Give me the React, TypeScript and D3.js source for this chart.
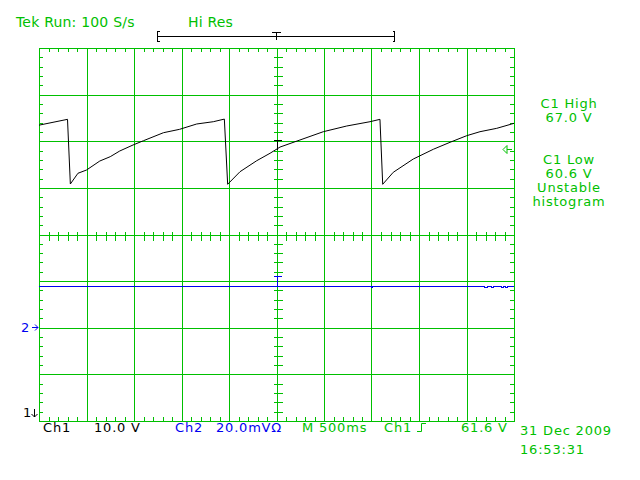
import * as d3 from 'd3'

// Ch1 trace (seconds, volts), 500 ms/div, 10 V/div
const ch1Time = [
  -2.5, -2.2, -2.17, -2.09, -2.0, -1.86, -1.75, -1.65, -1.51, -1.4, -1.19, -1.02, -0.84, -0.665, -0.549,
  -0.514, -0.384, -0.208, -0.068, 0.037, 0.247, 0.493, 0.739, 0.984, 1.089,
  1.118, 1.229, 1.44, 1.651, 1.826, 2.002, 2.142, 2.318, 2.476, 2.5
]
const ch1Volts = [
  66.7, 67.95, 54.08, 56.38, 57.08, 59.01, 59.94, 61.16, 62.45, 63.37, 65.08, 65.81, 66.95, 67.44, 68.0,
  54.02, 56.72, 59.08, 60.67, 62.0, 63.52, 65.3, 66.52, 67.44, 67.95,
  54.02, 56.59, 59.44, 61.53, 63.02, 64.44, 65.3, 66.02, 66.95, 67.1
]

// Ch2 trace (seconds, mV), 20 mV/div
const ch2Time = [-2.5, 1.0, 1.012, 2.19, 2.22, 2.265, 2.28, 2.37, 2.385, 2.415, 2.43, 2.5]
const ch2MilliVolts = [18.1, 17.6, 18.1, 17.6, 18.1, 17.6, 18.1, 17.6, 18.1, 17.6, 18.1, 18.1]

const triggerLevel = 61.6
const ch1Center = 43.25 // volts at screen centre
const ch2Ground = -2 // divisions from centre

const measureLines = ['C1 High', '67.0 V', '', '', 'C1 Low', '60.6 V', 'Unstable', 'histogram']

const GREEN = '#00c000'
const BLUE = '#0000f0'
const FONT = 'DejaVu Sans, Verdana, sans-serif'

const left = 39
const right = 514
const top = 48
const bottom = 421

export default function App() {
  const xDiv = d3.scaleLinear().domain([0, 10]).range([left, right])
  const yDiv = d3.scaleLinear().domain([0, 8]).range([bottom, top])
  const xTime = d3.scaleLinear().domain([-2.5, 2.5]).range([left, right])
  const yCh1 = d3.scaleLinear().domain([ch1Center - 40, ch1Center + 40]).range([bottom, top])
  const yCh2 = d3
    .scaleLinear()
    .domain([(-4 - ch2Ground) * 20, (4 - ch2Ground) * 20])
    .range([bottom, top])

  const snap = (v: number) => Math.round(v) + 0.5

  const ch1Data = ch1Time.map((t, i) => [t, ch1Volts[i]] as [number, number])
  const ch2Data = ch2Time.map((t, i) => [t, ch2MilliVolts[i]] as [number, number])

  const ch1Line = d3.line<[number, number]>().x(d => xTime(d[0])).y(d => yCh1(d[1]))
  const ch2Line = d3
    .line<[number, number]>()
    .x(d => xTime(d[0]))
    .y(d => snap(yCh2(d[1])))
    .curve(d3.curveStepAfter)

  const xMajor = d3.range(1, 10)
  const yMajor = d3.range(1, 8)
  const xMinor = d3.range(0, 10.001, 0.2)
  const yMinor = d3.range(0, 8.001, 0.2)

  const cx = snap(xDiv(5))
  const cy = snap(yDiv(4))
  const trigY = snap(yCh1(triggerLevel))
  const trigX = snap(xTime(0))
  const ch2Y = snap(yCh2(ch2MilliVolts[0]))
  const ch2GroundY = snap(yCh2(0))

  const txt = { fontFamily: FONT, fontSize: 13, letterSpacing: 0.8 }

  return (
    <svg
      width={640}
      height={480}
      style={{ position: 'absolute', left: 0, top: 0, background: '#fff' }}
    >
      <rect x={0} y={0} width={640} height={480} fill="#fff" />

      {/* graticule */}
      <g stroke={GREEN} strokeWidth={1} shapeRendering="crispEdges" fill="none">
        {xMajor.map(d => (
          <line key={'vx' + d} x1={snap(xDiv(d))} x2={snap(xDiv(d))} y1={top} y2={bottom} />
        ))}
        {yMajor.map(d => (
          <line key={'hy' + d} x1={left} x2={right} y1={snap(yDiv(d))} y2={snap(yDiv(d))} />
        ))}
        {xMinor.map((d, i) => (
          <g key={'mx' + i}>
            <line x1={snap(xDiv(d))} x2={snap(xDiv(d))} y1={top} y2={top + 4} />
            <line x1={snap(xDiv(d))} x2={snap(xDiv(d))} y1={bottom - 4} y2={bottom} />
            <line x1={snap(xDiv(d))} x2={snap(xDiv(d))} y1={cy - 4} y2={cy + 5} />
          </g>
        ))}
        {yMinor.map((d, i) => (
          <g key={'my' + i}>
            <line x1={left} x2={left + 4} y1={snap(yDiv(d))} y2={snap(yDiv(d))} />
            <line x1={right - 4} x2={right} y1={snap(yDiv(d))} y2={snap(yDiv(d))} />
            <line x1={cx - 4} x2={cx + 5} y1={snap(yDiv(d))} y2={snap(yDiv(d))} />
          </g>
        ))}
        <rect x={snap(left)} y={snap(top)} width={right - left} height={bottom - top} />
      </g>

      {/* Ch2 trace */}
      <path d={ch2Line(ch2Data) || ''} fill="none" stroke={BLUE} strokeWidth={1} shapeRendering="crispEdges" />
      <g stroke={BLUE} strokeWidth={1} shapeRendering="crispEdges">
        <line x1={trigX - 4} x2={trigX + 4} y1={ch2Y - 10} y2={ch2Y - 10} />
        <line x1={trigX} x2={trigX} y1={ch2Y - 10} y2={ch2Y} />
      </g>

      {/* Ch1 trace */}
      <path d={ch1Line(ch1Data) || ''} fill="none" stroke="#000" strokeWidth={1} />
      <g stroke="#000" strokeWidth={1} shapeRendering="crispEdges">
        <line x1={trigX - 4} x2={trigX + 4} y1={trigY - 9} y2={trigY - 9} />
        <line x1={trigX} x2={trigX} y1={trigY - 9} y2={trigY} />
      </g>

      {/* trigger level marker */}
      <g stroke={GREEN} strokeWidth={1} fill="none">
        <path d={`M${right - 11},${trigY} L${right - 7},${trigY - 4} L${right - 7},${trigY + 4} Z`} />
        <line x1={right - 7} x2={right - 2} y1={trigY} y2={trigY} />
      </g>

      {/* record view bracket */}
      <g stroke="#000" strokeWidth={1} shapeRendering="crispEdges" fill="none">
        <line x1={157} x2={395} y1={36.5} y2={36.5} />
        <path d="M159.5,31.5 H157.5 V41.5 H159.5" />
        <path d="M392.5,31.5 H394.5 V41.5 H392.5" />
        <line x1={272} x2={281} y1={32.5} y2={32.5} />
        <line x1={276.5} x2={276.5} y1={32} y2={40} />
      </g>

      {/* header */}
      <text x={16} y={27} fill={GREEN} fontFamily={FONT} fontSize={14} letterSpacing={0.2}>
        Tek Run: 100 S/s
      </text>
      <text x={188} y={27} fill={GREEN} fontFamily={FONT} fontSize={14} letterSpacing={0.2}>
        Hi Res
      </text>

      {/* measurements */}
      {measureLines.map((s, i) => (
        <text key={i} x={569} y={108 + i * 14} fill={GREEN} textAnchor="middle" {...txt}>
          {s}
        </text>
      ))}

      {/* channel ground markers */}
      <text x={21} y={332} fill={BLUE} {...txt}>2</text>
      <g stroke={BLUE} strokeWidth={1} fill="none">
        <line x1={32} x2={38} y1={ch2GroundY - 1} y2={ch2GroundY - 1} />
        <path d={`M35,${ch2GroundY - 4} L38,${ch2GroundY - 1} L35,${ch2GroundY + 2}`} />
      </g>
      <text x={23} y={417} fill="#000" {...txt}>1</text>
      <g stroke="#000" strokeWidth={1} fill="none">
        <line x1={34.5} x2={34.5} y1={409} y2={417} />
        <path d="M31.5,414 L34.5,417 L37.5,414" />
      </g>

      {/* bottom readout */}
      <text x={43} y={432} fill="#000" {...txt}>Ch1</text>
      <text x={94} y={432} fill="#000" {...txt}>10.0 V</text>
      <text x={175} y={432} fill={BLUE} {...txt}>Ch2</text>
      <text x={216} y={432} fill={BLUE} {...txt}>20.0mVΩ</text>
      <text x={302} y={432} fill={GREEN} {...txt}>M 500ms</text>
      <text x={384} y={432} fill={GREEN} {...txt}>Ch1</text>
      <path d="M417,431.5 H421.5 V423.5 H426" fill="none" stroke={GREEN} strokeWidth={1} />
      <text x={461} y={432} fill={GREEN} {...txt}>61.6 V</text>
      <text x={520} y={435} fill={GREEN} {...txt}>31 Dec 2009</text>
      <text x={520} y={454} fill={GREEN} {...txt}>16:53:31</text>
    </svg>
  )
}
